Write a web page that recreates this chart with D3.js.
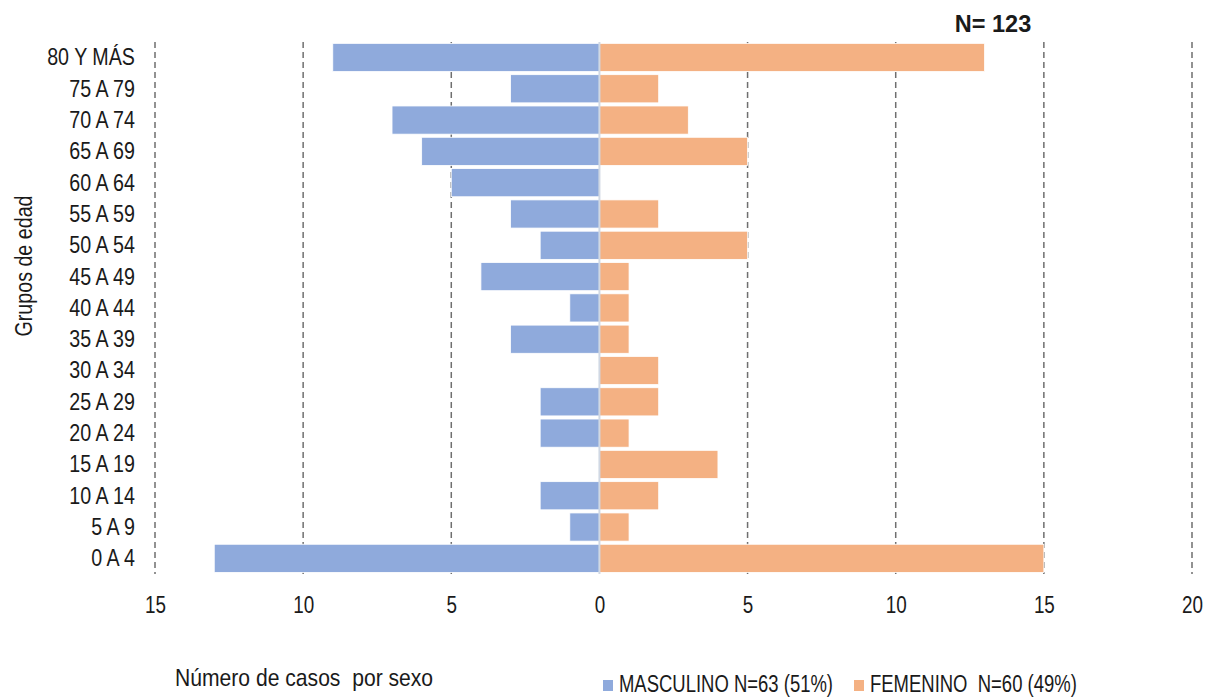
<!DOCTYPE html>
<html><head><meta charset="utf-8">
<script src="https://cdn.jsdelivr.net/npm/d3@7"></script>
<style>
body{margin:0;background:#fff;}
svg text{font-family:"Liberation Sans",Arial,sans-serif;fill:#1a1a1a;}
</style></head><body>
<svg id="c" width="1205" height="698"></svg>
<script>
const categories = ["80 Y MÁS","75 A 79","70 A 74","65 A 69","60 A 64","55 A 59","50 A 54","45 A 49","40 A 44","35 A 39","30 A 34","25 A 29","20 A 24","15 A 19","10 A 14","5 A 9","0 A 4"];
const masculino = [9,3,7,6,5,3,2,4,1,3,0,2,2,0,2,1,13];
const femenino  = [13,2,3,5,0,2,5,1,1,1,2,2,1,4,2,1,15];
const xTicks = [-15,-10,-5,0,5,10,15,20];
const seriesNames = ["MASCULINO N=63 (51%)","FEMENINO  N=60 (49%)"];
const colors = ["#8FAADC","#F4B183"];

const svg = d3.select("#c");
const x = d3.scaleLinear().domain([-15,20]).range([155,1192]);
const y = d3.scaleBand().domain(categories).range([41.8,574]).paddingInner(0.1).paddingOuter(0.05);

// grid
svg.append("g").selectAll("line").data(xTicks.filter(d=>d!==0)).join("line")
  .attr("x1",d=>x(d)).attr("x2",d=>x(d)).attr("y1",42).attr("y2",574)
  .attr("stroke","#6f6f6f").attr("stroke-width",1.5).attr("stroke-dasharray","6,4");

// bars
svg.append("g").selectAll("rect").data(categories).join("rect")
  .attr("x",(d,i)=>x(-masculino[i])).attr("width",(d,i)=>x(0)-x(-masculino[i]))
  .attr("y",d=>y(d)).attr("height",y.bandwidth()).attr("fill",colors[0])
  .attr("stroke","#fff").attr("stroke-width",0.8);
svg.append("g").selectAll("rect").data(categories).join("rect")
  .attr("x",x(0)).attr("width",(d,i)=>x(femenino[i])-x(0))
  .attr("y",d=>y(d)).attr("height",y.bandwidth()).attr("fill",colors[1])
  .attr("stroke","#fff").attr("stroke-width",0.8);

// zero line
svg.append("line").attr("x1",x(0)).attr("x2",x(0)).attr("y1",42).attr("y2",574)
  .attr("stroke","#d0d8e4").attr("stroke-width",2);

// x axis
const xa = svg.append("g").attr("transform","translate(0,613)")
  .call(d3.axisBottom(x).tickValues(xTicks).tickFormat(d=>Math.abs(d)).tickSize(0));
xa.select(".domain").remove();
xa.selectAll("text").attr("font-size",23).attr("dy",0).attr("y",0).attr("class","nar");

// y axis
const ya = svg.append("g").attr("transform","translate(135,0)")
  .call(d3.axisLeft(y).tickSize(0).tickPadding(0));
ya.select(".domain").remove();
ya.selectAll("text").attr("font-size",24).attr("dy","0.33em").attr("class","nar");

// titles
svg.append("text").attr("class","nar").attr("transform","translate(32,266) rotate(-90)")
  .attr("text-anchor","middle").attr("font-size",24).text("Grupos de edad");
svg.append("text").attr("class","nar").attr("data-k","0.98").attr("x",993).attr("y",32).attr("text-anchor","middle")
  .attr("font-size",24).attr("font-weight","bold").text("N= 123");
svg.append("text").attr("class","nar").attr("data-k","0.88").attr("x",175).attr("y",686).attr("font-size",24)
  .attr("xml:space","preserve").text("Número de casos  por sexo");

// legend
const lg = svg.append("g").selectAll("g").data(seriesNames).join("g")
  .attr("transform",(d,i)=>`translate(${[603,854][i]},0)`);
lg.append("rect").attr("x",0).attr("y",680).attr("width",10).attr("height",11).attr("fill",(d,i)=>colors[i]);
lg.append("text").attr("class","nar").attr("data-k","0.77").attr("x",16).attr("y",692).attr("font-size",24)
  .attr("xml:space","preserve").text(d=>d);

// condense text horizontally (narrow font look) with a scale about the anchor x
svg.selectAll("text.nar").each(function(){
  const k = +(this.getAttribute("data-k") || 0.82);
  const ax = +(this.getAttribute("x") || 0);
  const t = this.getAttribute("transform") || "";
  this.setAttribute("transform", `${t} translate(${ax},0) scale(${k},1) translate(${-ax},0)`.trim());
});
</script></body></html>
